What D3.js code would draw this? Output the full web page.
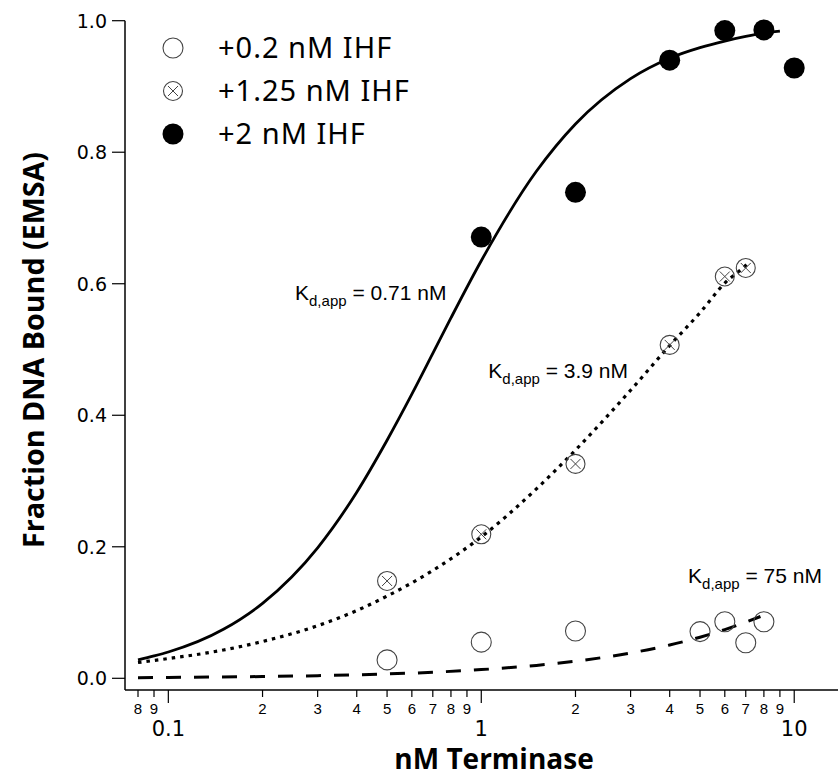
<!DOCTYPE html>
<html>
<head>
<meta charset="utf-8">
<script src="https://cdn.jsdelivr.net/npm/d3@7"></script>
<style>
  body { margin: 0; background: #fff; }
  svg { display: block; }
</style>
</head>
<body>
<div id="chart"></div>
<script>
// measured points (nM terminase vs fraction bound)
const conc02 = [0.5, 1, 2, 5, 6, 7, 8];
const frac02 = [0.028, 0.055, 0.072, 0.071, 0.086, 0.054, 0.086];
const conc125 = [0.5, 1, 2, 4, 6, 7];
const frac125 = [0.148, 0.219, 0.326, 0.507, 0.611, 0.624];
const conc2 = [1, 2, 4, 6, 8, 10];
const frac2 = [0.671, 0.739, 0.940, 0.985, 0.986, 0.928];

// fit curves
const fit02X = [0.08, 0.1, 0.2, 0.3, 0.5, 0.7, 1, 1.5, 2, 3, 4, 5, 6, 7, 7.8];
const fit02Y = [0.001, 0.0013, 0.0027, 0.004, 0.0066, 0.0092, 0.0132, 0.0196, 0.026, 0.0385, 0.0506, 0.0625, 0.074, 0.0854, 0.094];
const fit125X = [0.08, 0.1, 0.15, 0.2, 0.3, 0.4, 0.5, 0.7, 1, 1.5, 2, 3, 4, 5, 6, 7, 7.1];
const fit125Y = [0.024, 0.030, 0.043, 0.056, 0.080, 0.103, 0.125, 0.164, 0.215, 0.288, 0.347, 0.438, 0.506, 0.556, 0.601, 0.628, 0.631];
const fit2X = [0.08, 0.09, 0.1, 0.15, 0.2, 0.3, 0.4, 0.5, 0.6, 0.7, 0.8, 1, 1.5, 2, 3, 4, 5, 6, 7, 8, 9];
const fit2Y = [0.028, 0.034, 0.040, 0.0745, 0.114, 0.1985, 0.283, 0.362, 0.432, 0.494, 0.548, 0.635, 0.771, 0.843, 0.912, 0.943, 0.959, 0.969, 0.976, 0.981, 0.984];

const legendLabels = ['+0.2 nM IHF', '+1.25 nM IHF', '+2 nM IHF'];
const kdLabels = [
  {x: 0.254, y: 0.576, text: ' = 0.71 nM'},
  {x: 1.053, y: 0.456, text: ' = 3.9 nM'},
  {x: 4.58, y: 0.145, text: ' = 75 nM'}
];
const yTicks = [0, 0.2, 0.4, 0.6, 0.8, 1.0];
const xMajor = [0.1, 1, 10];
const xMinor = [0.08, 0.09, 0.2, 0.3, 0.4, 0.5, 0.6, 0.7, 0.8, 0.9, 2, 3, 4, 5, 6, 7, 8, 9];

const width = 838, height = 776;
const svg = d3.select('#chart').append('svg')
  .attr('width', width).attr('height', height);

const x = d3.scaleLog().domain([0.0727, 13.8]).range([125, 838]);
const y = d3.scaleLinear().domain([0, 1]).range([678.3, 20.7]);
const axisY = 690;

// axes lines
svg.append('line').attr('x1', 125).attr('x2', 125).attr('y1', y(1)).attr('y2', axisY)
  .attr('stroke', '#000').attr('stroke-width', 1.5);
svg.append('line').attr('x1', 125).attr('x2', 838).attr('y1', axisY).attr('y2', axisY)
  .attr('stroke', '#000').attr('stroke-width', 1.5);

// y ticks
svg.selectAll('.ytick').data(yTicks).enter().append('line')
  .attr('x1', 112).attr('x2', 125).attr('y1', d => y(d)).attr('y2', d => y(d))
  .attr('stroke', '#000').attr('stroke-width', 1.2);
svg.selectAll('.ylab').data(yTicks).enter().append('text')
  .attr('x', 107).attr('y', d => y(d)).attr('dy', '0.36em')
  .attr('text-anchor', 'end')
  .style('font', '19px "DejaVu Sans"')
  .text(d => d.toFixed(1));

// x ticks
svg.selectAll('.xmaj').data(xMajor).enter().append('line')
  .attr('x1', d => x(d)).attr('x2', d => x(d)).attr('y1', axisY).attr('y2', axisY + 13)
  .attr('stroke', '#000').attr('stroke-width', 1.2);
svg.selectAll('.xmin').data(xMinor).enter().append('line')
  .attr('x1', d => x(d)).attr('x2', d => x(d)).attr('y1', axisY).attr('y2', axisY + 7)
  .attr('stroke', '#000').attr('stroke-width', 1.2);
svg.selectAll('.xminlab').data(xMinor).enter().append('text')
  .attr('x', d => x(d)).attr('y', 714)
  .attr('text-anchor', 'middle')
  .style('font', '15px "Liberation Sans Narrow", "Liberation Sans"')
  .text(d => Math.round(d / Math.pow(10, Math.floor(Math.log10(d) + 1e-9))));
svg.selectAll('.xmajlab').data(xMajor).enter().append('text')
  .attr('x', d => x(d)).attr('y', 736)
  .attr('text-anchor', 'middle')
  .style('font', '21px "DejaVu Sans"')
  .text(d => d);

// axis titles
svg.append('text').attr('x', 494).attr('y', 769).attr('text-anchor', 'middle')
  .style('font', 'bold 28px "Open Sans"').text('nM Terminase');
svg.append('text').attr('transform', 'translate(44,350) rotate(-90)')
  .attr('text-anchor', 'middle')
  .attr('textLength', 396).attr('lengthAdjust', 'spacingAndGlyphs')
  .style('font', 'bold 28px "Open Sans"').text('Fraction DNA Bound (EMSA)');

// fit curves
const line = d3.line().x(d => x(d[0])).y(d => y(d[1])).curve(d3.curveMonotoneX);
svg.append('path').datum(d3.zip(fit02X, fit02Y)).attr('d', line)
  .attr('fill', 'none').attr('stroke', '#000').attr('stroke-width', 3)
  .attr('stroke-dasharray', '15,13');
svg.append('path').datum(d3.zip(fit125X, fit125Y)).attr('d', line)
  .attr('fill', 'none').attr('stroke', '#000').attr('stroke-width', 3.2)
  .attr('stroke-dasharray', '3.5,5');
svg.append('path').datum(d3.zip(fit2X, fit2Y)).attr('d', line)
  .attr('fill', 'none').attr('stroke', '#000').attr('stroke-width', 2.8);

// markers
function openCircle(g, cx, cy) {
  g.append('circle').attr('cx', cx).attr('cy', cy).attr('r', 10)
    .attr('fill', 'none').attr('stroke', '#444').attr('stroke-width', 1.1);
}
function crossCircle(g, cx, cy) {
  g.append('circle').attr('cx', cx).attr('cy', cy).attr('r', 9.5)
    .attr('fill', 'none').attr('stroke', '#444').attr('stroke-width', 1.1);
  const s = 5;
  g.append('path').attr('d', `M${cx - s},${cy - s}L${cx + s},${cy + s}M${cx - s},${cy + s}L${cx + s},${cy - s}`)
    .attr('stroke', '#444').attr('stroke-width', 1);
}
function filledCircle(g, cx, cy) {
  g.append('circle').attr('cx', cx).attr('cy', cy).attr('r', 10.5).attr('fill', '#000');
}

const pts = svg.append('g');
d3.zip(conc02, frac02).forEach(d => openCircle(pts, x(d[0]), y(d[1])));
d3.zip(conc125, frac125).forEach(d => crossCircle(pts, x(d[0]), y(d[1])));
d3.zip(conc2, frac2).forEach(d => filledCircle(pts, x(d[0]), y(d[1])));

// legend
const markers = [openCircle, crossCircle, filledCircle];
const legY = [48, 91, 134];
legendLabels.forEach((t, i) => {
  markers[i](svg, 173, legY[i]);
  svg.append('text').attr('x', 218).attr('y', legY[i] + 10)
    .style('font', '29px "Noto Sans"').style('letter-spacing', '1px').text(t);
});

// Kd annotations
kdLabels.forEach(k => {
  const t = svg.append('text').attr('x', x(k.x)).attr('y', y(k.y))
    .style('font', '21px "Liberation Sans"');
  t.append('tspan').text('K');
  t.append('tspan').attr('dy', 6).style('font-size', '15px').text('d,app');
  t.append('tspan').attr('dy', -6).text(k.text);
});
</script>
</body>
</html>
